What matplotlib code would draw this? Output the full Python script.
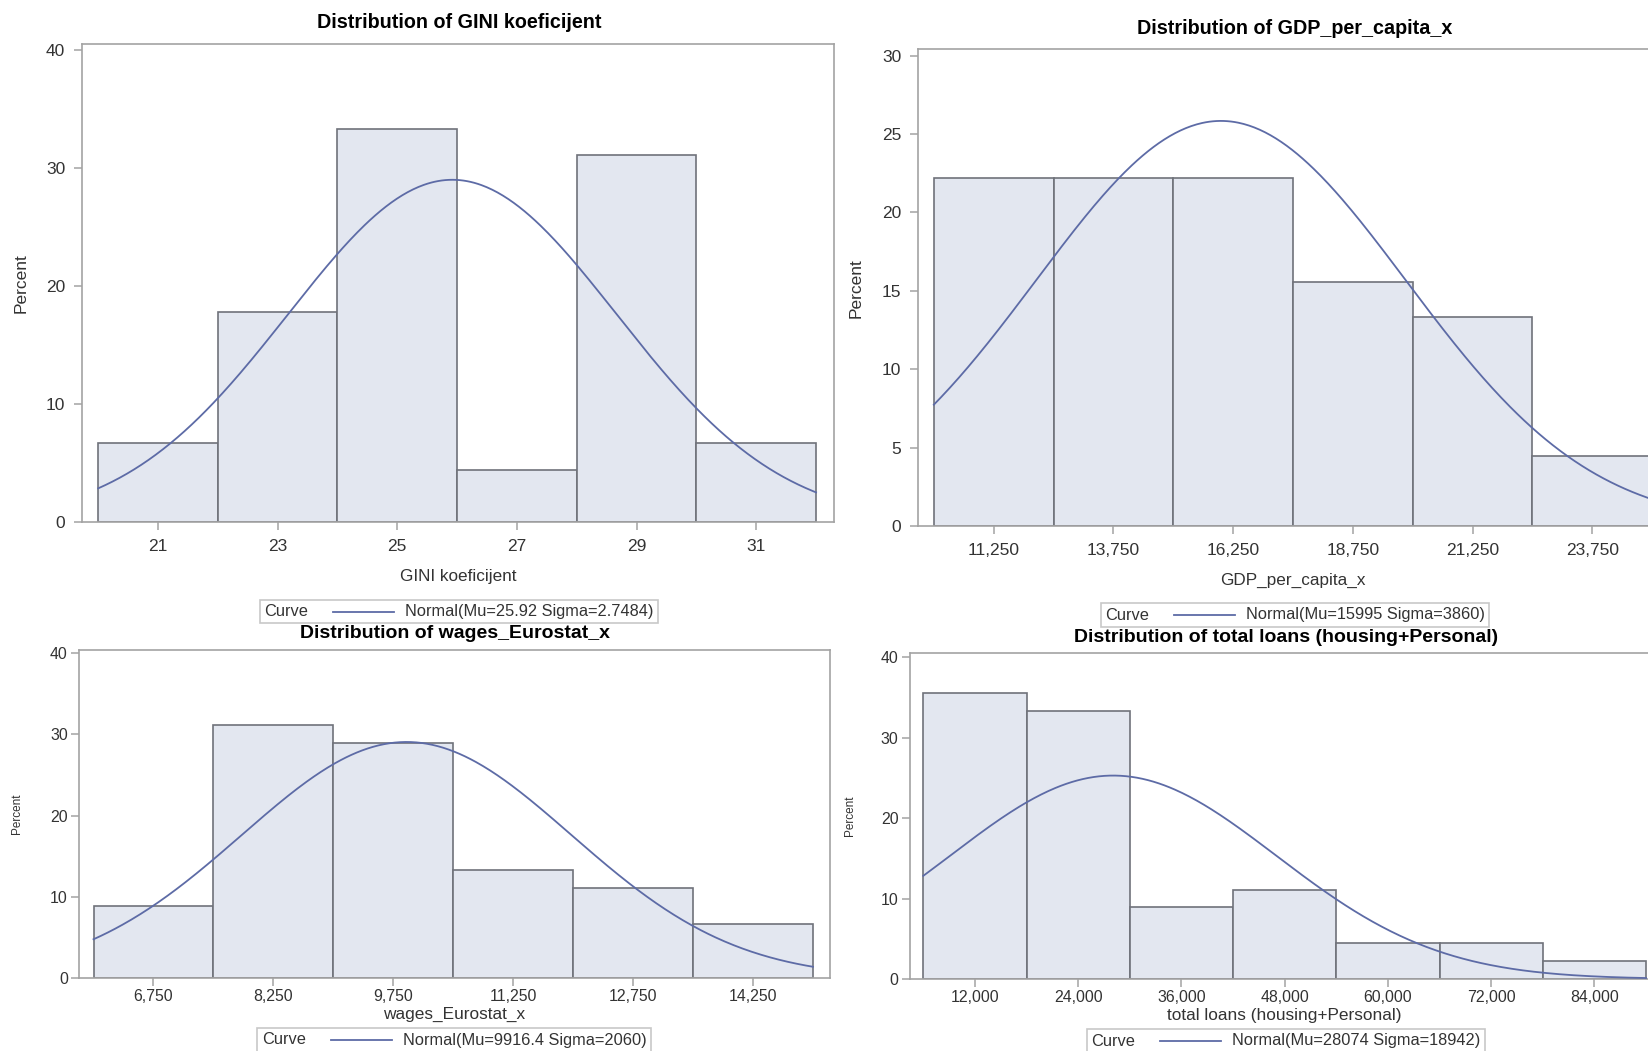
import numpy as np
import matplotlib
matplotlib.use("Agg")
import matplotlib.pyplot as plt
from matplotlib.lines import Line2D
from matplotlib.offsetbox import AnchoredOffsetbox, HPacker, TextArea, DrawingArea
from matplotlib.ticker import FuncFormatter

plt.rcParams["font.family"] = ["Liberation Sans", "DejaVu Sans"]

# --- data ---
gini_mid = [21, 23, 25, 27, 29, 31]
gini_pct = [6.67, 17.78, 33.33, 4.44, 31.11, 6.67]
gini_mu, gini_sigma = 25.92, 2.7484

gdp_mid = [11250, 13750, 16250, 18750, 21250, 23750]
gdp_pct = [22.22, 22.22, 22.22, 15.56, 13.33, 4.44]
gdp_mu, gdp_sigma = 15995, 3860

wage_mid = [6750, 8250, 9750, 11250, 12750, 14250]
wage_pct = [8.89, 31.11, 28.89, 13.33, 11.11, 6.67]
wage_mu, wage_sigma = 9916.4, 2060

loan_mid = [12000, 24000, 36000, 48000, 60000, 72000, 84000]
loan_pct = [35.56, 33.33, 8.89, 11.11, 4.44, 4.44, 2.22]
loan_mu, loan_sigma = 28074, 18942

W, H = 1649, 1051
FILL = "#e3e7f0"
EDGE = "#6f727a"
CURVE = "#5d6ba6"
FRAME = "#a3a3a3"
TXT = "#333333"

fig = plt.figure(figsize=(W / 100, H / 100), dpi=100)


def panel(box, mids, pct, mu, sigma, xlim, ylim, yticks, title, title_xy,
          xlabel, legend_xy, comma, fs):
    left, right, top, bottom = box
    ax = fig.add_axes([left / W, 1 - bottom / H, (right - left) / W, (bottom - top) / H])
    mids = np.asarray(mids, dtype=float)
    binw = mids[1] - mids[0]
    ax.bar(mids - binw / 2, pct, width=binw, align="edge", color=FILL,
           edgecolor=EDGE, linewidth=1.2, zorder=2)
    # fitted normal curve, scaled to percent per bin
    x = np.linspace(mids[0] - binw / 2, mids[-1] + binw / 2, 400)
    y = 100 * binw * np.exp(-0.5 * ((x - mu) / sigma) ** 2) / (sigma * np.sqrt(2 * np.pi))
    ax.plot(x, y, color=CURVE, lw=1.3, zorder=3)
    ax.set_xlim(*xlim)
    ax.set_ylim(*ylim)
    ax.set_xticks(mids)
    ax.set_yticks(yticks)
    if comma:
        ax.xaxis.set_major_formatter(FuncFormatter(lambda v, p: f"{v:,.0f}"))
    else:
        ax.xaxis.set_major_formatter(FuncFormatter(lambda v, p: f"{v:.0f}"))
    for s in ax.spines.values():
        s.set_color(FRAME)
        s.set_linewidth(1.2)
    ax.tick_params(length=6, width=1.1, color=FRAME, labelsize=fs["tick"],
                   labelcolor=TXT, pad=fs["pad"])
    ax.set_xlabel(xlabel, fontsize=fs["label"], color=TXT, labelpad=fs["xpad"])
    ax.set_ylabel("Percent", fontsize=fs["ylabel"], color=TXT)
    ax.yaxis.set_label_coords(fs["ycoord"], 0.5)
    fig.text(title_xy[0] / W, 1 - title_xy[1] / H, title, ha="center", va="center",
             fontsize=fs["title"], fontweight="bold", color="black")

    # legend: "Curve  ----  Normal(...)"
    da = DrawingArea(70, 10, 0, 0)
    da.add_artist(Line2D([18, 62], [5, 5], color=CURVE, lw=1.3))
    tp = dict(fontsize=fs["legend"], color=TXT)
    row = HPacker(children=[TextArea("Curve", textprops=tp), da,
                            TextArea(f"Normal(Mu={mu:g} Sigma={sigma:g})", textprops=tp)],
                  align="center", pad=0, sep=0)
    anc = AnchoredOffsetbox(loc="center", child=row, pad=0.3, borderpad=0,
                            frameon=True,
                            bbox_to_anchor=(legend_xy[0] / W, 1 - legend_xy[1] / H),
                            bbox_transform=fig.transFigure)
    anc.patch.set_edgecolor("#c8c8c8")
    anc.patch.set_linewidth(1.2)
    anc.patch.set_boxstyle("square", pad=0)
    fig.add_artist(anc)
    return ax


top_fs = dict(tick=12.5, label=12.3, ylabel=12.5, title=14.2, legend=11.8, xpad=11,
              pad=6, ycoord=-0.071)
bot_fs = dict(tick=11.4, label=12.4, ylabel=8.5, title=14, legend=11.8, xpad=2,
              pad=2, ycoord=-0.074)

panel((82, 834, 44, 522), gini_mid, gini_pct, gini_mu, gini_sigma,
      (19.73, 32.3), (0, 40.55), [0, 10, 20, 30, 40],
      "Distribution of GINI koeficijent", (459, 22), "GINI koeficijent",
      (459, 611.5), False, top_fs)

panel((918, 1668, 49.4, 526), gdp_mid, gdp_pct, gdp_mu, gdp_sigma,
      (9670, 25330), (0, 30.4), [0, 5, 10, 15, 20, 25, 30],
      "Distribution of GDP_per_capita_x", (1295, 28.4), "GDP_per_capita_x",
      (1295, 615), True, dict(top_fs, ycoord=-0.072))

panel((78.9, 829.8, 650, 978), wage_mid, wage_pct, wage_mu, wage_sigma,
      (5817, 15211), (0, 40.37), [0, 10, 20, 30, 40],
      "Distribution of wages_Eurostat_x", (455, 634), "wages_Eurostat_x",
      (454, 1040), True, bot_fs)

panel((909.7, 1659.6, 653, 979), loan_mid, loan_pct, loan_mu, loan_sigma,
      (4422, 91578), (0, 40.5), [0, 10, 20, 30, 40],
      "Distribution of total loans (housing+Personal)", (1286, 637),
      "total loans (housing+Personal)", (1286, 1041), True,
      dict(bot_fs, ycoord=-0.071))

fig.savefig("out.png", dpi=100)
